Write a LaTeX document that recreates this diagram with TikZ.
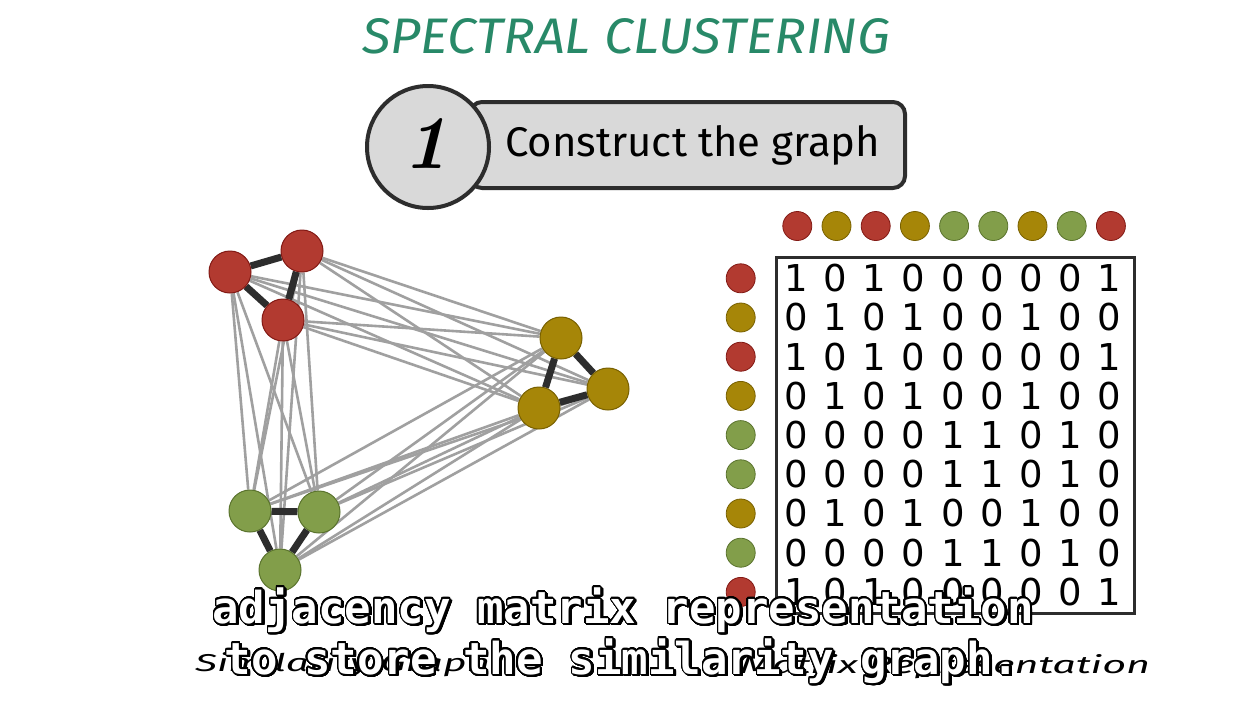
\documentclass[tikz,border=0pt]{standalone}
\usepackage{fontspec}
\usepackage{contour}
\usetikzlibrary{backgrounds}
\newfontfamily\handfont{Fira Sans}
\newfontfamily\digitfont{DejaVu Sans}
\newfontfamily\subfont{DejaVu Sans Mono}
\definecolor{cred}{RGB}{178,58,48}
\definecolor{credd}{RGB}{130,25,20}
\definecolor{cyel}{RGB}{166,134,8}
\definecolor{cyeld}{RGB}{120,96,0}
\definecolor{cgrn}{RGB}{130,158,74}
\definecolor{cgrnd}{RGB}{90,115,45}
\definecolor{titleteal}{RGB}{40,137,104}
\definecolor{lgray}{RGB}{217,217,217}
\definecolor{darkline}{RGB}{45,45,45}
\definecolor{weakgray}{RGB}{160,160,160}
\contourlength{1.3pt}
\contournumber{32}
\begin{document}
\begin{tikzpicture}[x=1pt,y=-1pt,
  vtx/.style={circle, minimum size=42pt, inner sep=0pt, line width=1pt},
  vR/.style={vtx, fill=cred, draw=credd},
  vY/.style={vtx, fill=cyel, draw=cyeld},
  vG/.style={vtx, fill=cgrn, draw=cgrnd},
  mdot/.style={circle, minimum size=29pt, inner sep=0pt, line width=0.8pt},
  dR/.style={mdot, fill=cred, draw=credd},
  dY/.style={mdot, fill=cyel, draw=cyeld},
  dG/.style={mdot, fill=cgrn, draw=cgrnd},
  weak/.style={draw=weakgray, line width=2.6pt},
  strong/.style={draw=darkline, line width=7pt},
  digit/.style={inner sep=0pt, font=\digitfont\fontsize{37}{37}\selectfont, text=black},
  subtxt/.style={anchor=base, inner sep=0pt, font=\subfont\bfseries\fontsize{44}{44}\selectfont}
]
\useasboundingbox (0,0) rectangle (1238,702);

% title
\node[anchor=base, inner sep=0pt, text=titleteal] (title) at (626,53)
  {\resizebox{528pt}{35pt}{\handfont\itshape SPECTRAL CLUSTERING}};

% step banner
\node[draw=darkline, line width=4pt, fill=lgray, rounded corners=12pt,
      minimum width=435pt, minimum height=86pt, inner sep=0pt] (bar) at (687.5,145) {};
\node[circle, draw=darkline, line width=4pt, fill=lgray, minimum size=122pt, inner sep=0pt]
  (stepcircle) at (428,147) {};
\node[anchor=base, inner sep=0pt] (stepnum) at (426,168) {\resizebox{!}{50pt}{\bfseries\itshape 1}};
\node[anchor=base west, inner sep=0pt] (steptext) at (505,156)
  {\resizebox{375pt}{31pt}{\handfont Construct the graph}};

% graph vertices
\node[vR] (r1) at (230,272) {};
\node[vR] (r2) at (302,251) {};
\node[vR] (r3) at (283,320) {};
\node[vY] (y1) at (561,338) {};
\node[vY] (y2) at (608,389) {};
\node[vY] (y3) at (539,408) {};
\node[vG] (g1) at (250,511) {};
\node[vG] (g2) at (319,512) {};
\node[vG] (g3) at (280,570) {};

\begin{scope}[on background layer]
  \fill[white] (0,0) rectangle (1238,702);
  \foreach \a in {r1,r2,r3} \foreach \b in {y1,y2,y3,g1,g2,g3} \draw[weak] (\a) -- (\b);
  \foreach \a in {y1,y2,y3} \foreach \b in {g1,g2,g3} \draw[weak] (\a) -- (\b);
  \draw[strong] (r1) -- (r2);
  \draw[strong] (r2) -- (r3);
  \draw[strong] (r1) -- (r3);
  \draw[strong] (y1) -- (y2);
  \draw[strong] (y2) -- (y3);
  \draw[strong] (y1) -- (y3);
  \draw[strong] (g1) -- (g2);
  \draw[strong] (g2) -- (g3);
  \draw[strong] (g1) -- (g3);
\end{scope}

% matrix
\node[draw=darkline, line width=3.5pt, minimum width=358pt, minimum height=356pt, inner sep=0pt]
  (box) at (955.5,435.5) {};
\foreach \c [count=\i from 0] in {R,Y,R,Y,G,G,Y,G,R} {
  \node[d\c] (col\i) at ({797.3+39.2*\i},226) {};
  \node[d\c] (row\i) at (740.7,{278.3+39.2*\i}) {};
}
\foreach \rw [count=\i from 0] in {{1,0,1,0,0,0,0,0,1},{0,1,0,1,0,0,1,0,0},{1,0,1,0,0,0,0,0,1},
  {0,1,0,1,0,0,1,0,0},{0,0,0,0,1,1,0,1,0},{0,0,0,0,1,1,0,1,0},{0,1,0,1,0,0,1,0,0},
  {0,0,0,0,1,1,0,1,0},{1,0,1,0,0,0,0,0,1}} {
  \foreach \v [count=\j from 0] in \rw {
    \node[digit] (m-\i-\j) at ({796+39.2*\j},{278.3+39.2*\i}) {\v};
  }
}

% bottom labels
\node[anchor=base west, inner sep=0pt] (lblgraph) at (195,671)
  {\resizebox{295pt}{19pt}{\handfont\itshape Similarity Graph}};
\node[anchor=base west, inner sep=0pt] (lblmatrix) at (740,673)
  {\resizebox{410pt}{19pt}{\handfont\itshape Matrix Representation}};

% subtitle overlay
\node[subtxt, text=black] (sub1s) at (624.5,624.5) {\contour{black}{adjacency matrix representation}};
\node[subtxt, text=black] (sub2s) at (623.5,675.5) {\contour{black}{to store the similarity graph.}};
\node[subtxt, text=white] (sub1) at (623,623) {\contour{black}{adjacency matrix representation}};
\node[subtxt, text=white] (sub2) at (622,674) {\contour{black}{to store the similarity graph.}};
\end{tikzpicture}
\end{document}
